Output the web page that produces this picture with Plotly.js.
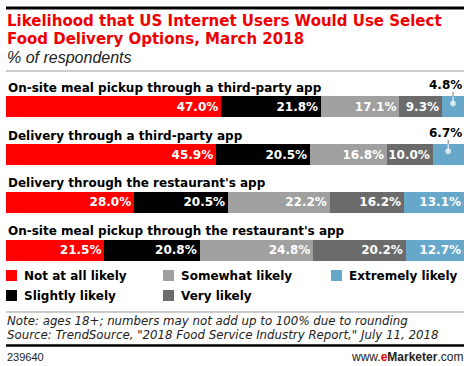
<!DOCTYPE html>
<html>
<head>
<meta charset="utf-8">
<script src="https://cdn.plot.ly/plotly-3.0.1.min.js"></script>
<style>html,body{margin:0;padding:0;background:#fff;}#chart{width:470px;height:366px;}</style>
</head>
<body>
<div id="chart"></div>
<script>
// ---- data ----
const categories = [
  "On-site meal pickup through a third-party app",
  "Delivery through a third-party app",
  "Delivery through the restaurant's app",
  "On-site meal pickup through the restaurant's app"
];
const seriesNames = ["Not at all likely", "Slightly likely", "Somewhat likely", "Very likely", "Extremely likely"];
const notAtAll   = [47.0, 45.9, 28.0, 21.5];
const slightly   = [21.8, 20.5, 20.5, 20.8];
const somewhat   = [17.1, 16.8, 22.2, 24.8];
const veryLikely = [9.3, 10.0, 16.2, 20.2];
const extremely  = [4.8, 6.7, 13.1, 12.7];
const seriesValues = [notAtAll, slightly, somewhat, veryLikely, extremely];
const colors = ["#ff0000", "#000000", "#a0a0a0", "#6b6b6b", "#67a8ca"];

// ---- layout helpers (pixel -> paper) ----
const W = 470, H = 366, L = 6, R = 6, T = 83, B = 92;
const PW = W - L - R, PH = H - T - B;
const px = x => (x - L) / PW;
const py = y => 1 - (y - T) / PH;
const BOLD = "DejaVu Sans, Verdana, sans-serif";
const SANS = "Liberation Sans, Arial, sans-serif";
const FOOT = "DejaVu Sans, Verdana, sans-serif";
const SMALL = 8; // values below this are labelled above the bar

const yIdx = categories.map((c, i) => i);
const traces = [];
seriesValues.forEach((vals, s) => {
  traces.push({
    type: "bar", orientation: "h",
    x: vals, y: yIdx, name: seriesNames[s],
    marker: {color: colors[s], line: {width: 0}},
    text: vals.map(v => v < SMALL ? "" : v.toFixed(1) + "%"),
    textposition: "inside", insidetextanchor: "end",
    constraintext: "none",
    textfont: {family: BOLD, size: 12, color: "#ffffff", weight: "bold"},
    hoverinfo: "skip", showlegend: false, cliponaxis: false
  });
});

const annotations = [];
const shapes = [];

// small-segment markers and outside labels
yIdx.forEach(i => {
  let cum = 0;
  const total = seriesValues.reduce((a, arr) => a + arr[i], 0);
  seriesValues.forEach((vals, s) => {
    const v = vals[i];
    if (v < SMALL) {
      const mid = cum + v / 2;
      traces.push({type: "scatter", mode: "lines", x: [mid, mid], y: [i - 0.31, i - 0.22],
        line: {color: "#777", width: 1}, hoverinfo: "skip", showlegend: false, cliponaxis: false});
      traces.push({type: "scatter", mode: "lines+markers", x: [mid, mid], y: [i - 0.22, i - 0.07],
        line: {color: "#ffffff", width: 1}, marker: {color: "#ffffff", size: [0, 5]},
        hoverinfo: "skip", showlegend: false, cliponaxis: false});
      annotations.push({xref: "x", yref: "y", x: Math.min(total, 100), y: i, yshift: 22,
        xanchor: "right", yanchor: "middle", showarrow: false, text: v.toFixed(1) + "%",
        font: {family: BOLD, size: 12, color: "#000", weight: "bold"}});
    }
    cum += v;
  });
  // category label
  annotations.push({xref: "paper", yref: "y", x: 0, y: i, yshift: 19, xanchor: "left", yanchor: "middle",
    showarrow: false, text: categories[i], font: {family: BOLD, size: 12, color: "#000", weight: "bold"}});
});

// title block
shapes.push({type: "line", xref: "paper", yref: "paper", x0: px(6), x1: px(464), y0: py(8), y1: py(8), line: {color: "#000", width: 3}});
annotations.push({xref: "paper", yref: "paper", x: px(5), y: py(21), xanchor: "left", yanchor: "middle", showarrow: false,
  text: "Likelihood that US Internet Users Would Use Select", font: {family: BOLD, size: 15, color: "#ee0000", weight: "bold"}});
annotations.push({xref: "paper", yref: "paper", x: px(5), y: py(39), xanchor: "left", yanchor: "middle", showarrow: false,
  text: "Food Delivery Options, March 2018", font: {family: BOLD, size: 15, color: "#ee0000", weight: "bold"}});
annotations.push({xref: "paper", yref: "paper", x: px(5), y: py(58), xanchor: "left", yanchor: "middle", showarrow: false,
  text: "<i>% of respondents</i>", font: {family: SANS, size: 16, color: "#222"}});
shapes.push({type: "line", xref: "paper", yref: "paper", x0: px(6), x1: px(464), y0: py(71), y1: py(71), line: {color: "#999", width: 1}});

// legend (manual, column-major)
const legendPos = [[6, 275.5], [6, 295.5], [163, 275.5], [163, 295.5], [331, 275.5]];
seriesNames.forEach((n, s) => {
  const [lx, ly] = legendPos[s];
  shapes.push({type: "rect", xref: "paper", yref: "paper", x0: px(lx), x1: px(lx + 11), y0: py(ly - 5.5), y1: py(ly + 5.5),
    fillcolor: colors[s], line: {width: 0}});
  annotations.push({xref: "paper", yref: "paper", x: px(lx + 16), y: py(ly), xanchor: "left", yanchor: "middle", showarrow: false,
    text: n, font: {family: BOLD, size: 12, color: "#000", weight: "bold"}});
});

// footer
shapes.push({type: "line", xref: "paper", yref: "paper", x0: px(6), x1: px(464), y0: py(312), y1: py(312), line: {color: "#999", width: 1}});
annotations.push({xref: "paper", yref: "paper", x: px(5), y: py(321), xanchor: "left", yanchor: "middle", showarrow: false,
  text: "<i>Note: ages 18+; numbers may not add up to 100% due to rounding</i>", font: {family: FOOT, size: 11.8, color: "#222"}});
annotations.push({xref: "paper", yref: "paper", x: px(5), y: py(334.5), xanchor: "left", yanchor: "middle", showarrow: false,
  text: "<i>Source: TrendSource, \"2018 Food Service Industry Report,\" July 11, 2018</i>", font: {family: FOOT, size: 11.8, color: "#222"}});
shapes.push({type: "line", xref: "paper", yref: "paper", x0: px(6), x1: px(464), y0: py(345.5), y1: py(345.5), line: {color: "#000", width: 2.5}});
annotations.push({xref: "paper", yref: "paper", x: px(5), y: py(357), xanchor: "left", yanchor: "middle", showarrow: false,
  text: "239640", font: {family: SANS, size: 11, color: "#222"}});
annotations.push({xref: "paper", yref: "paper", x: px(465), y: py(357), xanchor: "right", yanchor: "middle", showarrow: false,
  text: "www.<b><span style=\"color:#ee0000\">e</span>Marketer</b>.com", font: {family: SANS, size: 12, color: "#222"}});

const layout = {
  width: W, height: H,
  margin: {l: L, r: R, t: T, b: B, pad: 0},
  paper_bgcolor: "#fff", plot_bgcolor: "#fff",
  barmode: "stack", bargap: 0.56,
  showlegend: false,
  xaxis: {range: [0, 100], visible: false, fixedrange: true},
  yaxis: {range: [3.5, -0.5], visible: false, fixedrange: true},
  annotations: annotations, shapes: shapes
};
Plotly.newPlot("chart", traces, layout, {displayModeBar: false, staticPlot: true});
</script>
</body>
</html>
